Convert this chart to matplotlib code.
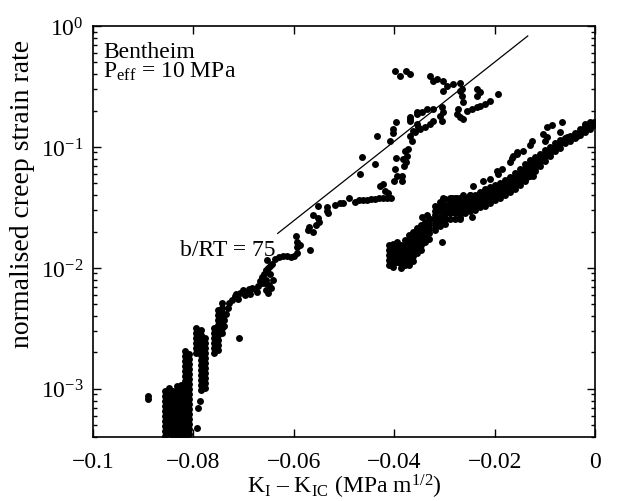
import matplotlib
matplotlib.use("Agg")
import matplotlib.pyplot as plt
import numpy as np
from matplotlib.ticker import FixedLocator, LogLocator, NullFormatter, LogFormatterMathtext

plt.rcParams['font.family'] = ['Liberation Serif', 'DejaVu Serif']
plt.rcParams['mathtext.fontset'] = 'custom'
plt.rcParams['mathtext.rm'] = 'Liberation Serif'
plt.rcParams['mathtext.it'] = 'Liberation Serif:italic'
plt.rcParams['font.size'] = 17

# ---- data: K_I - K_IC (MPa m^1/2) vs normalised creep strain rate ----
# specimen 1 (left / upper branch): dense vertical runs, given as (K, [rates])
s1_runs = [
    (-0.0857, [0.000961, 0.000873, 0.000794, 0.000723, 0.000657, 0.000598, 0.000544, 0.000495, 0.000450, 0.000409]),
    (-0.0849, [0.00102, 0.000925, 0.000841, 0.000765, 0.000696, 0.000633, 0.000576, 0.000524, 0.000476, 0.000433]),
    (-0.0841, [0.000961, 0.000873, 0.000794, 0.000723, 0.000657, 0.000598, 0.000544, 0.000495, 0.000450, 0.000409]),
    (-0.0833, [0.00106, 0.000961, 0.000873, 0.000794, 0.000723, 0.000657, 0.000598, 0.000544, 0.000495, 0.000450, 0.000409]),
    (-0.0825, [0.00108, 0.000980, 0.000891, 0.000811, 0.000737, 0.000670, 0.000609, 0.000555, 0.000504, 0.000458, 0.000417]),
    (-0.0817, [0.00205, 0.00187, 0.00170, 0.00155, 0.00141, 0.00128, 0.00116, 0.00106, 0.000961, 0.000873,
               0.000794, 0.000723, 0.000657, 0.000598, 0.000544, 0.000495, 0.000450, 0.000409]),
    (-0.0809, [0.00194, 0.00177, 0.00160, 0.00146, 0.00133, 0.00121, 0.00110, 0.000998, 0.000908,
               0.000826, 0.000751, 0.000683, 0.000621, 0.000565, 0.000514, 0.000467, 0.000425]),
    (-0.0795, [0.00318, 0.00289, 0.00263, 0.00239, 0.00217, 0.00198]),
    (-0.0785, [0.00306, 0.00278, 0.00253, 0.00230, 0.00209, 0.00190, 0.00173, 0.00157, 0.00143,
               0.00130, 0.00119, 0.00108, 0.000980]),
    (-0.0777, [0.00263, 0.00239, 0.00217, 0.00198, 0.00180, 0.00164, 0.00149, 0.00135, 0.00123, 0.00112, 0.00102]),
    (-0.0759, [0.00318, 0.00289, 0.00263, 0.00239, 0.00217, 0.00198]),
    (-0.0751, [0.00447, 0.00406, 0.00370, 0.00337, 0.00306, 0.00278, 0.00253, 0.00230, 0.00209]),
    (-0.0743, [0.00511, 0.00464, 0.00423, 0.00384, 0.00349, 0.00318, 0.00289]),
]

# specimen 1, single points
s1_points = [
    (-0.0890, 0.00087), (-0.0890, 0.00083),
    (-0.0787, 0.000794), (-0.0791, 0.000696), (-0.0793, 0.000476), (-0.0709, 0.00263),
    (-0.0739, 0.00330), (-0.0739, 0.00370), (-0.0735, 0.00414), (-0.0731, 0.00464), (-0.0729, 0.00511),
    (-0.0723, 0.00541), (-0.0717, 0.00583), (-0.0711, 0.00551), (-0.0707, 0.00618), (-0.0701, 0.00654),
    (-0.0695, 0.00630), (-0.0689, 0.00667), (-0.0683, 0.00679), (-0.0677, 0.00667), (-0.0673, 0.00630),
    (-0.0671, 0.00706), (-0.0667, 0.00776), (-0.0663, 0.00837), (-0.0659, 0.00885), (-0.0655, 0.00955),
    (-0.0651, 0.00993), (-0.0647, 0.0103), (-0.0643, 0.0107), (-0.0647, 0.00885), (-0.0641, 0.00791),
    (-0.0645, 0.00679), (-0.0651, 0.00618), (-0.0657, 0.00747), (-0.0715, 0.00606), (-0.0697, 0.00594),
    (-0.0687, 0.00606), (-0.0663, 0.00747), (-0.0655, 0.00791), (-0.0649, 0.00719), (-0.0655, 0.00654),
    (-0.0653, 0.0116), (-0.0637, 0.0118), (-0.0629, 0.0122), (-0.0621, 0.0125), (-0.0613, 0.0125),
    (-0.0605, 0.0122), (-0.0600, 0.0125), (-0.0594, 0.0134), (-0.0594, 0.0148), (-0.0594, 0.0163),
    (-0.0596, 0.0182), (-0.0588, 0.0154), (-0.0568, 0.0140),
    (-0.0572, 0.0204), (-0.0570, 0.0216), (-0.0562, 0.0200), (-0.0556, 0.0225), (-0.0552, 0.0261),
    (-0.0550, 0.0238), (-0.0552, 0.0322), (-0.0562, 0.0272), (-0.0534, 0.0316), (-0.0534, 0.0298),
    (-0.0532, 0.0282), (-0.0518, 0.0334), (-0.0508, 0.0347), (-0.0502, 0.0341), (-0.0490, 0.0382),
    (-0.0478, 0.0354), (-0.0470, 0.0361), (-0.0462, 0.0361), (-0.0454, 0.0361), (-0.0446, 0.0368),
    (-0.0438, 0.0368), (-0.0430, 0.0375), (-0.0422, 0.0382), (-0.0414, 0.0382), (-0.0406, 0.0375),
    (-0.0428, 0.0480), (-0.0422, 0.0498), (-0.0418, 0.0436), (-0.0412, 0.0420),
    (-0.0468, 0.0603), (-0.0464, 0.0832), (-0.0438, 0.0728), (-0.0434, 0.124),
    (-0.0398, 0.0662), (-0.0394, 0.0580), (-0.0400, 0.0527), (-0.0384, 0.0580), (-0.0396, 0.0816),
    (-0.0408, 0.113), (-0.0402, 0.142), (-0.0396, 0.162), (-0.0402, 0.131), (-0.0369, 0.171),
    (-0.0355, 0.188), (-0.0375, 0.0848), (-0.0376, 0.0757), (-0.0373, 0.0968), (-0.0365, 0.111),
    (-0.0359, 0.134), (-0.0353, 0.147), (-0.0369, 0.124), (-0.0378, 0.0932), (-0.0382, 0.0801),
    (-0.0380, 0.0701),
    (-0.0398, 0.426), (-0.0388, 0.387), (-0.0376, 0.426), (-0.0369, 0.402), (-0.0329, 0.387),
    (-0.0323, 0.352), (-0.0315, 0.366), (-0.0303, 0.352), (-0.0295, 0.320), (-0.0283, 0.333),
    (-0.0303, 0.291), (-0.0269, 0.339), (-0.0265, 0.303), (-0.0235, 0.303), (-0.0229, 0.286),
    (-0.0235, 0.265), (-0.0193, 0.275), (-0.0209, 0.241), (-0.0219, 0.227), (-0.0229, 0.219),
    (-0.0235, 0.215), (-0.0245, 0.207), (-0.0255, 0.199), (-0.0263, 0.236), (-0.0265, 0.265),
    (-0.0269, 0.291), (-0.0273, 0.207), (-0.0269, 0.178), (-0.0263, 0.171), (-0.0275, 0.188),
    (-0.0305, 0.215), (-0.0303, 0.195), (-0.0309, 0.181), (-0.0305, 0.165), (-0.0323, 0.207),
    (-0.0335, 0.207), (-0.0345, 0.195), (-0.0355, 0.195), (-0.0369, 0.178), (-0.0369, 0.165),
    (-0.0355, 0.156), (-0.0349, 0.142), (-0.0339, 0.147), (-0.0329, 0.156), (-0.0323, 0.165),
    (-0.0363, 0.136), (-0.0384, 0.0528),
]

# specimen 2 (right / lower branch): dense vertical runs
s2_runs = [
    (-0.0410, [0.0154, 0.0140, 0.0127, 0.0116, 0.0105]),
    (-0.0402, [0.0159, 0.0145, 0.0132, 0.0120, 0.0109, 0.0101]),
    (-0.0394, [0.0163, 0.0148, 0.0134, 0.0122, 0.0111]),
    (-0.0386, [0.0156, 0.0142, 0.0129, 0.0118, 0.0107, 0.00993]),
    (-0.0378, [0.0169, 0.0154, 0.0140, 0.0127, 0.0116, 0.0105]),
    (-0.0371, [0.0186, 0.0169, 0.0154, 0.0140, 0.0127, 0.0116, 0.0105]),
    (-0.0363, [0.0200, 0.0182, 0.0166, 0.0151, 0.0137, 0.0125, 0.0113]),
    (-0.0355, [0.0212, 0.0193, 0.0175, 0.0159, 0.0145, 0.0132]),
    (-0.0347, [0.0225, 0.0204, 0.0186, 0.0169, 0.0154, 0.0140]),
    (-0.0339, [0.0238, 0.0216, 0.0197, 0.0179, 0.0163]),
    (-0.0331, [0.0256, 0.0233, 0.0212, 0.0193, 0.0175]),
    (-0.0319, [0.0328, 0.0298, 0.0272, 0.0247, 0.0225, 0.0204]),
    (-0.0309, [0.0354, 0.0322, 0.0293, 0.0266, 0.0242, 0.0220]),
    (-0.0299, [0.0368, 0.0334, 0.0304, 0.0277, 0.0252, 0.0229]),
    (-0.0289, [0.0375, 0.0341, 0.0310, 0.0282, 0.0256]),
    (-0.0279, [0.0375, 0.0341, 0.0310, 0.0282, 0.0256]),
    (-0.0269, [0.0375, 0.0341, 0.0310, 0.0287, 0.0266]),
    (-0.0259, [0.0382, 0.0354, 0.0328, 0.0304, 0.0282]),
    (-0.0249, [0.0397, 0.0368, 0.0341, 0.0316, 0.0293]),
    (-0.0239, [0.0404, 0.0375, 0.0347, 0.0322, 0.0304]),
    (-0.0229, [0.0428, 0.0397, 0.0368, 0.0341, 0.0316]),
    (-0.0219, [0.0445, 0.0412, 0.0382, 0.0354, 0.0328]),
    (-0.0209, [0.0471, 0.0436, 0.0404, 0.0375, 0.0341]),
    (-0.0199, [0.0489, 0.0453, 0.0420, 0.0389, 0.0361]),
    (-0.0189, [0.0508, 0.0471, 0.0436, 0.0404, 0.0382]),
    (-0.0179, [0.0537, 0.0498, 0.0462, 0.0428, 0.0404]),
    (-0.0169, [0.0569, 0.0527, 0.0489, 0.0453, 0.0428]),
    (-0.0159, [0.0614, 0.0569, 0.0527, 0.0489, 0.0453]),
    (-0.0149, [0.0662, 0.0614, 0.0569, 0.0527, 0.0489]),
    (-0.0139, [0.0728, 0.0675, 0.0614, 0.0569, 0.0527]),
    (-0.0129, [0.0786, 0.0728, 0.0675, 0.0625, 0.0580]),
    (-0.0120, [0.0832, 0.0771, 0.0715, 0.0675, 0.0638]),
    (-0.0110, [0.0881, 0.0816, 0.0757, 0.0701]),
    (-0.0100, [0.0950, 0.0881, 0.0832, 0.0771]),
    (-0.0090, [0.1005, 0.0950, 0.0898, 0.0848]),
    (-0.0080, [0.1084, 0.1005, 0.0932]),
    (-0.0070, [0.1148, 0.107, 0.0987]),
    (-0.0060, [0.1193, 0.113, 0.107]),
    (-0.0050, [0.124, 0.117, 0.113]),
    (-0.0040, [0.131, 0.124, 0.1193]),
    (-0.0030, [0.142, 0.134, 0.126]),
    (-0.0020, [0.150, 0.142, 0.134]),
    (-0.0010, [0.1585, 0.150, 0.142]),
    (-0.0002, [0.162, 0.1527]),
]

s2_points = [
    (-0.0345, 0.0266), (-0.0329, 0.0252), (-0.0305, 0.0163), (-0.0245, 0.0266), (-0.0269, 0.0252),
    (-0.0285, 0.0382), (-0.0275, 0.0382), (-0.0263, 0.0397), (-0.0249, 0.0404), (-0.0223, 0.0527),
    (-0.0209, 0.0548), (-0.0193, 0.0603), (-0.0185, 0.0662), (-0.0169, 0.0757), (-0.0165, 0.0816),
    (-0.0155, 0.0881), (-0.0143, 0.0932), (-0.0129, 0.1045), (-0.0125, 0.111), (-0.0104, 0.129),
    (-0.0096, 0.147), (-0.0086, 0.1527), (-0.0066, 0.162), (-0.0070, 0.134), (-0.0096, 0.1216),
    (-0.0100, 0.111), (-0.0056, 0.1216), (-0.0036, 0.124), (-0.0020, 0.156), (-0.0010, 0.162),
    (-0.0135, 0.0569), (-0.0124, 0.0580), (-0.0335, 0.0272), (-0.0303, 0.0375), (-0.0243, 0.0480),
    (-0.0195, 0.0638), (-0.0163, 0.0848), (-0.0155, 0.0915),
]

# b/RT = 75 reference line end points
fit_k = [-0.0632, -0.0134]
fit_rate = [0.0193, 0.827]

xticks = [-0.1, -0.08, -0.06, -0.04, -0.02, 0]
xtick_labels = ['\u22120.1', '\u22120.08', '\u22120.06', '\u22120.04', '\u22120.02', '0']


def unpack(runs, points):
    k = [x for x, ys in runs for _ in ys] + [p[0] for p in points]
    r = [y for _, ys in runs for y in ys] + [p[1] for p in points]
    return np.array(k), np.array(r)


k1, r1 = unpack(s1_runs, s1_points)
k2, r2 = unpack(s2_runs, s2_points)

fig = plt.figure(figsize=(6.18, 5.02), dpi=100)
ax = fig.add_axes([0.1505, 0.1275, 0.8123, 0.8187])

ax.plot(k1, r1, 'o', color='black', markersize=5.0, markeredgewidth=0)
ax.plot(k2, r2, 'o', color='black', markersize=5.0, markeredgewidth=0)
ax.plot(fit_k, fit_rate, '-', color='black', linewidth=0.9)

ax.set_yscale('log')
ax.set_xlim(-0.1, 0)
ax.set_ylim(4e-4, 1)

ax.xaxis.set_major_locator(FixedLocator(xticks))
ax.set_xticklabels(xtick_labels)
ax.yaxis.set_major_locator(LogLocator(base=10))
ax.yaxis.set_major_formatter(LogFormatterMathtext())
ax.yaxis.set_minor_locator(LogLocator(base=10, subs=np.arange(2, 10)))
ax.yaxis.set_minor_formatter(NullFormatter())

ax.tick_params(which='both', direction='in', top=True, right=True, width=1.0)
ax.tick_params(which='major', length=6)
ax.tick_params(which='minor', length=3)
ax.tick_params(axis='x', pad=10)
ax.tick_params(axis='y', pad=7)
for s in ax.spines.values():
    s.set_linewidth(1.2)

ax.set_xlabel('K$_{\\rm I}$ \u2013 K$_{\\rm IC}$ (MPa m$^{1/2}$)', labelpad=0)
ax.set_ylabel('normalised creep strain rate', fontsize=20)
ax.yaxis.set_label_coords(-0.115, 0.595)

ax.text(0.02, 0.925, 'Bentheim', transform=ax.transAxes, ha='left', va='baseline')
ax.text(0.02, 0.876, r'P$_{\rm eff}$ = 10 MPa', transform=ax.transAxes, ha='left', va='baseline')
ax.text(0.364, 0.443, 'b/RT = 75', transform=ax.transAxes, ha='right', va='baseline')

fig.savefig('out.png', dpi=100)
